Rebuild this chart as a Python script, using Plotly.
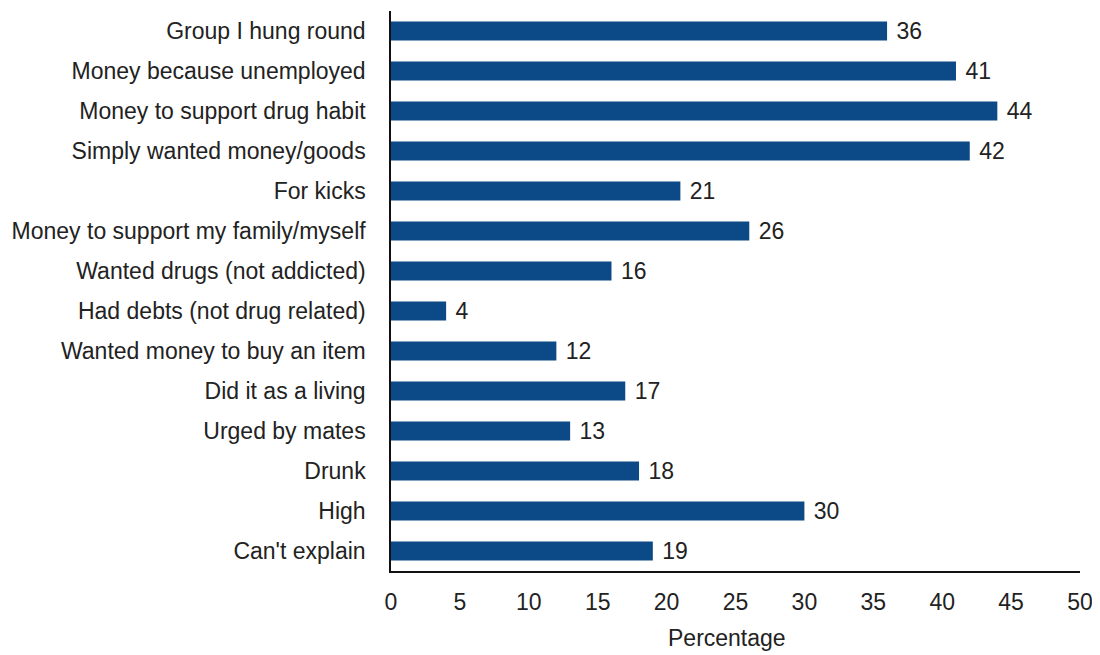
import plotly.graph_objects as go

categories = [
    "Group I hung round",
    "Money because unemployed",
    "Money to support drug habit",
    "Simply wanted money/goods",
    "For kicks",
    "Money to support my family/myself",
    "Wanted drugs (not addicted)",
    "Had debts (not drug related)",
    "Wanted money to buy an item",
    "Did it as a living",
    "Urged by mates",
    "Drunk",
    "High",
    "Can't explain",
]
values = [36, 41, 44, 42, 21, 26, 16, 4, 12, 17, 13, 18, 30, 19]
x_ticks = [0, 5, 10, 15, 20, 25, 30, 35, 40, 45, 50]
x_title = "Percentage"

font_family = "Liberation Sans, Arial, sans-serif"
fs = 23
txt_color = "#222222"

fig = go.Figure(
    go.Bar(
        y=categories,
        x=values,
        orientation="h",
        marker=dict(color="#0B4A86", line=dict(width=0)),
        texttemplate=" %{x}",
        textposition="outside",
        constraintext="none",
        textfont=dict(family=font_family, size=fs, color=txt_color),
        cliponaxis=False,
        width=0.48,
    )
)

fig.update_layout(
    width=1092,
    height=647,
    margin=dict(l=383, r=20, t=3, b=84),
    paper_bgcolor="white",
    plot_bgcolor="white",
    showlegend=False,
    uniformtext=dict(mode=False),
    font=dict(family=font_family, size=fs, color=txt_color),
    xaxis=dict(
        range=[0, 50],
        tickvals=x_ticks,
        ticktext=[str(t) for t in x_ticks],
        showgrid=False,
        zeroline=False,
        showline=True,
        linecolor="#111111",
        linewidth=1.5,
        ticks="",
        ticklabelstandoff=10,
        tickfont=dict(family=font_family, size=fs, color=txt_color),
        fixedrange=True,
    ),
    yaxis=dict(
        categoryorder="array",
        categoryarray=categories,
        autorange="reversed",
        showgrid=False,
        zeroline=False,
        showline=True,
        linecolor="#111111",
        linewidth=1.5,
        ticks="",
        ticklabelstandoff=19,
        tickfont=dict(family=font_family, size=fs, color=txt_color),
        fixedrange=True,
    ),
    annotations=[
        dict(
            text=x_title,
            xref="paper", yref="paper",
            x=0.488, y=-0.1196,
            xanchor="center", yanchor="middle",
            showarrow=False,
            font=dict(family=font_family, size=fs, color=txt_color),
        )
    ],
)

fig.write_html("out.html")
